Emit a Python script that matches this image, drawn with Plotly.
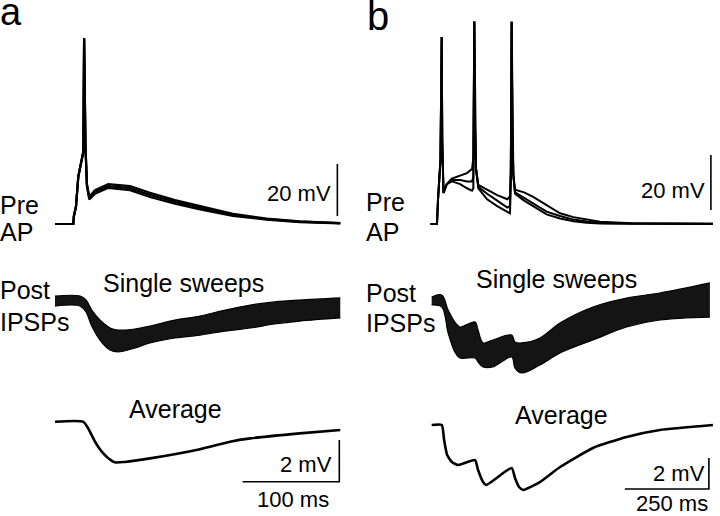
import plotly.graph_objects as go

W, H = 720, 516

# ---------------- data ----------------
# Panel a: presynaptic AP, three overlaid sweeps (ms, mV relative to rest)
pre_a_t = [0, 18.9, 19.5, 21.7, 24.1, 29.3, 30.1, 31.5, 33.0, 35.5, 41.4, 55.1, 77.6, 98.2, 124, 150, 184, 219, 253, 295]
pre_a_s1 = [0, 0, 3.0, 6.7, 18.2, 27.8, 71.4, 30, 15.0, 9.9, 12.3, 14.6, 13.8, 11.2, 8.5, 6.2, 3.5, 1.9, 0.9, 0.3]
pre_a_s2 = [0, 0, 3.0, 6.7, 18.2, 27.8, 71.4, 30, 15.5, 10.5, 13.0, 15.3, 14.6, 12.0, 9.2, 6.8, 3.9, 2.1, 1.0, 0.3]
pre_a_s3 = [0, 0, 3.0, 6.7, 18.2, 27.8, 71.4, 30, 14.5, 9.4, 11.6, 13.9, 13.0, 10.4, 7.8, 5.6, 3.1, 1.7, 0.7, 0.2]

# Panel a: postsynaptic single sweeps (envelope of the band) and average (ms, mV)
post_a_t = [0, 26, 32, 38, 46.5, 57, 65, 82.7, 98.2, 124, 150, 176, 202, 227, 253, 295]
post_a_hi = [0.27, 0.27, 0.08, -0.40, -0.88, -1.26, -1.36, -1.31, -1.17, -0.88, -0.69, -0.40, -0.16, -0.01, 0.08, 0.18]
post_a_lo = [-0.21, -0.21, -0.49, -1.17, -1.84, -2.32, -2.41, -2.22, -1.98, -1.74, -1.60, -1.41, -1.26, -1.07, -0.93, -0.78]
avg_a_t = [0, 29, 34.1, 41.4, 48.6, 54.8, 62, 72.4, 98.2, 150, 181, 202, 253, 295]
avg_a_v = [0, 0, -0.30, -0.96, -1.45, -1.74, -1.95, -1.93, -1.76, -1.32, -0.96, -0.80, -0.56, -0.40]

# Panel b: presynaptic train of three APs, three overlaid sweeps (ms, mV)
pre_b_t = [0, 20.8, 23.8, 31.2, 34.8, 36.5, 40.2, 50, 65, 90, 110, 125, 129, 131.9, 134, 137, 143.8,
           170, 200, 230, 238, 240.5, 243, 245, 248, 253, 280, 307, 347, 387, 427, 466, 506, 600, 700, 842]
pre_b_s1 = [0, 0, 8.7, 23.3, 68, 30, 11.3, 14.5, 16.5, 17.5, 18.5, 20.0, 24.0, 73.6, 35, 20, 14.2,
            12.5, 10.5, 9.0, 10.0, 20, 73.5, 35, 18, 12.5, 11.5, 9.9, 7.0, 3.9, 2.5, 1.7, 0.8, 0.3, 0.2, 0.1]
pre_b_s2 = [0, 0, 8.7, 23.3, 68, 30, 11.3, 14.5, 16.0, 16.0, 15.5, 15.5, 17.0, 73.6, 35, 20, 13.5,
            11.0, 8.5, 6.0, 6.5, 18, 73.5, 35, 18, 11.5, 9.5, 7.5, 4.5, 2.9, 1.6, 0.9, 0.4, 0.2, 0.1, 0.1]
pre_b_s3 = [0, 0, 8.7, 23.3, 68, 30, 11.3, 14.5, 15.5, 14.5, 13.0, 12.1, 13.0, 73.6, 35, 20, 13.0,
            9.0, 6.5, 4.2, 3.9, 15, 73.5, 35, 18, 11.0, 8.5, 6.5, 3.5, 2.0, 1.0, 0.5, 0.2, 0.1, 0.1, 0.0]

# Panel b: postsynaptic single sweeps (envelope) and average (ms, mV)
post_b_t = [5, 35, 54, 74, 89, 134, 143, 158, 187, 243, 253, 273, 327, 387, 485, 585, 684, 833]
post_b_hi = [0.30, 0.43, -0.54, -1.31, -1.63, -1.31, -1.83, -2.66, -2.47, -2.15, -2.60, -2.66, -2.34, -1.37, -0.34, 0.24, 0.56, 1.21]
post_b_lo = [-0.21, -0.34, -2.02, -3.25, -3.63, -3.63, -3.89, -4.21, -4.21, -3.57, -4.28, -4.60, -4.08, -3.31, -2.47, -1.63, -1.18, -0.99]
avg_b_t = [5, 35, 42, 51, 65, 83, 134, 143, 158, 167, 243, 253, 265, 278, 327, 387, 485, 585, 684, 842]
avg_b_v = [0, 0, -0.97, -1.94, -2.39, -2.58, -2.26, -2.90, -3.68, -3.87, -2.77, -3.42, -4.00, -4.19, -3.68, -2.71, -1.48, -0.77, -0.32, 0]

# scale bar sizes
pre_bar_mv = [20, 20]          # panel a, panel b
post_bar_mv = [2, 2]
time_bar_ms = [100, 250]

# ---------------- layout helpers ----------------
def xrange_for(p0, px_per_unit):
    return [-p0 / px_per_unit, (W - p0) / px_per_unit]

def yrange_for(p0, px_per_unit):
    return [-(H - p0) / px_per_unit, p0 / px_per_unit]

BLACK = "black"
fig = go.Figure()

def line(x, y, xa, ya, w=1.6):
    fig.add_trace(go.Scatter(x=x, y=y, xaxis=xa, yaxis=ya, mode="lines",
                             line=dict(color=BLACK, width=w), hoverinfo="skip", showlegend=False))

def band(x, lo, hi, xa, ya):
    fig.add_trace(go.Scatter(x=x, y=lo, xaxis=xa, yaxis=ya, mode="lines",
                             line=dict(color=BLACK, width=1.2, shape="spline"), hoverinfo="skip", showlegend=False))
    fig.add_trace(go.Scatter(x=x, y=hi, xaxis=xa, yaxis=ya, mode="lines", fill="tonexty",
                             fillcolor="#141414", line=dict(color=BLACK, width=1.2, shape="spline"),
                             hoverinfo="skip", showlegend=False))

# panel a
for s in (pre_a_s1, pre_a_s2, pre_a_s3):
    line(pre_a_t, s, "x", "y", 2.2)
band(post_a_t, post_a_lo, post_a_hi, "x", "y2")
fig.add_trace(go.Scatter(x=avg_a_t, y=avg_a_v, xaxis="x", yaxis="y3", mode="lines",
                         line=dict(color=BLACK, width=2.6, shape="spline", smoothing=0.6),
                         hoverinfo="skip", showlegend=False))
# panel b
for s in (pre_b_s1, pre_b_s2, pre_b_s3):
    line(pre_b_t, s, "x2", "y4", 2.0)
band(post_b_t, post_b_lo, post_b_hi, "x2", "y5")
fig.add_trace(go.Scatter(x=avg_b_t, y=avg_b_v, xaxis="x2", yaxis="y6", mode="lines",
                         line=dict(color=BLACK, width=2.6, shape="spline", smoothing=0.5),
                         hoverinfo="skip", showlegend=False))

# scale bars (positions in data units of each panel)
SB = 1.6
line([292, 292], [3.1, 3.1 + pre_bar_mv[0]], "x", "y", SB)
line([294 - time_bar_ms[0], 294, 294], [-2.88, -2.88, -2.88 + post_bar_mv[0]], "x", "y3", SB)
line([836, 836], [5.1, 5.1 + pre_bar_mv[1]], "x2", "y4", SB)
line([830 - time_bar_ms[1], 830, 830], [-4.13, -4.13, -4.13 + post_bar_mv[1]], "x2", "y6", SB)

hidden = dict(visible=False, fixedrange=True, domain=[0, 1])
fig.update_layout(
    width=W, height=H, margin=dict(l=0, r=0, t=0, b=0),
    paper_bgcolor="white", plot_bgcolor="white", showlegend=False,
    xaxis=dict(range=xrange_for(55, 0.967), **hidden),
    xaxis2=dict(range=xrange_for(430, 0.336), overlaying="x", **hidden),
    yaxis=dict(range=yrange_for(224, 2.6), **hidden),
    yaxis2=dict(range=yrange_for(301.7, 20.85), overlaying="y", **hidden),
    yaxis3=dict(range=yrange_for(421.7, 20.85), overlaying="y", **hidden),
    yaxis4=dict(range=yrange_for(224, 2.75), overlaying="y", **hidden),
    yaxis5=dict(range=yrange_for(301.7, 15.5), overlaying="y", **hidden),
    yaxis6=dict(range=yrange_for(425, 15.5), overlaying="y", **hidden),
    font=dict(family="Arial, Liberation Sans, sans-serif", color=BLACK),
)

def txt(s, px, py, size, xanchor="left"):
    fig.add_annotation(text=s, x=px / W, y=1 - py / H, xref="paper", yref="paper",
                       xanchor=xanchor, yanchor="middle", showarrow=False,
                       font=dict(size=size, color=BLACK), borderpad=0)

L = 25
S = 22
txt("a", -1, 12, 38)
txt("b", 366, 16, 40)
txt("Pre", -1, 205, L); txt("AP", -1, 232, L)
txt("Pre", 365, 202, L); txt("AP", 365, 232, L)
txt("Post", -1, 290, L); txt("IPSPs", -1, 322, L)
txt("Post", 365, 293, L); txt("IPSPs", 365, 323, L)
txt("Single sweeps", 183, 283, L, "center")
txt("Single sweeps", 556, 279, L, "center")
txt("Average", 175, 409, L, "center")
txt("Average", 561, 415, L, "center")
txt("20 mV", 332, 193, S, "right")
txt("20 mV", 706, 190, S, "right")
txt("2 mV", 333, 464, S, "right")
txt("2 mV", 706, 473, S, "right")
txt("100 ms", 293, 499, S, "center")
txt("250 ms", 672, 503, S, "center")

fig.write_html("out.html", config={"displayModeBar": False},
               post_script="document.body.style.margin='0';document.body.style.overflow='hidden';")
